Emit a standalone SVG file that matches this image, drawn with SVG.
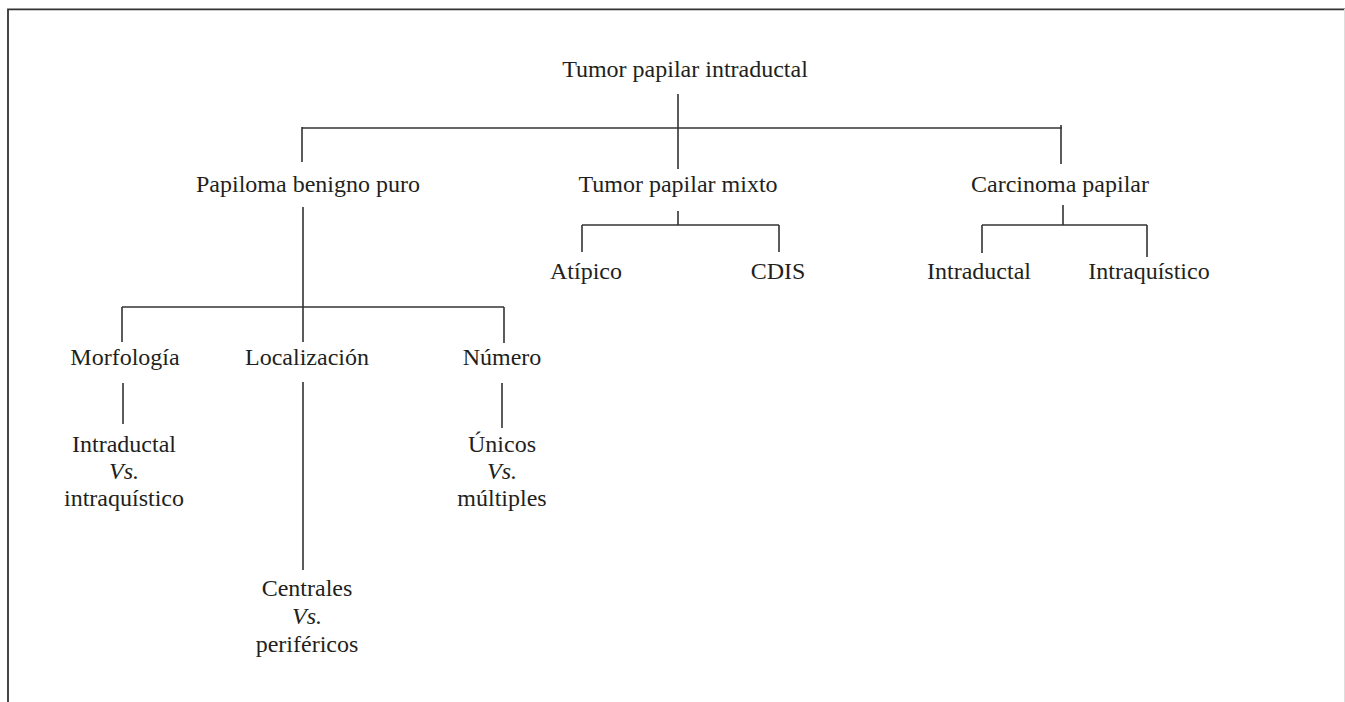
<svg xmlns="http://www.w3.org/2000/svg" width="1345" height="702" viewBox="0 0 1345 702">
<style>
.t{font-family:"Liberation Serif","Times New Roman",serif;font-size:24px;fill:#231f20;text-anchor:middle}
.i{font-style:italic}
.c{stroke:#333;stroke-width:1.6;fill:none}
.f{stroke:#333;stroke-width:1.8;fill:none}
</style>
<rect width="1345" height="702" fill="#fff"/>
<g id="frame">
<path class="f" d="M8,702 V9.3 H1345"/>
<path d="M1344.5,9 V702" stroke="#ddd" stroke-width="1"/>
</g>
<g id="connectors">
<path class="c" d="M678,94 V169"/>
<path class="c" d="M302,128 H1062"/>
<path class="c" d="M302,127 V162"/>
<path class="c" d="M1061,125 V164"/>
<path class="c" d="M678,211 V225"/>
<path class="c" d="M582,225 H779"/>
<path class="c" d="M582,225 V252"/>
<path class="c" d="M779,225 V252"/>
<path class="c" d="M1063,205 V225"/>
<path class="c" d="M982,225 H1147"/>
<path class="c" d="M982,225 V253"/>
<path class="c" d="M1147,225 V257"/>
<path class="c" d="M303,207 V342"/>
<path class="c" d="M122,307 H504"/>
<path class="c" d="M122,307 V342"/>
<path class="c" d="M504,307 V343"/>
<path class="c" d="M123,383 V424"/>
<path class="c" d="M303,382 V570"/>
<path class="c" d="M502,383 V428"/>
</g>
<g id="root"><text class="t" x="685" y="77">Tumor papilar intraductal</text></g>
<g id="papiloma"><text class="t" x="308" y="192">Papiloma benigno puro</text></g>
<g id="mixto"><text class="t" x="678" y="192">Tumor papilar mixto</text></g>
<g id="carcinoma"><text class="t" x="1060" y="192">Carcinoma papilar</text></g>
<g id="atipico"><text class="t" x="586" y="279">Atípico</text></g>
<g id="cdis"><text class="t" x="778" y="279">CDIS</text></g>
<g id="intraductal-c"><text class="t" x="979" y="279">Intraductal</text></g>
<g id="intraquistico-c"><text class="t" x="1149" y="279">Intraquístico</text></g>
<g id="morfologia"><text class="t" x="125" y="365">Morfología</text></g>
<g id="localizacion"><text class="t" x="307" y="365">Localización</text></g>
<g id="numero"><text class="t" x="502" y="365">Número</text></g>
<g id="morf-val">
<text class="t" x="124" y="452">Intraductal</text>
<text class="t i" x="124" y="479">Vs.</text>
<text class="t" x="124" y="506">intraquístico</text>
</g>
<g id="num-val">
<text class="t" x="502" y="452">Únicos</text>
<text class="t i" x="502" y="479">Vs.</text>
<text class="t" x="502" y="506">múltiples</text>
</g>
<g id="loc-val">
<text class="t" x="307" y="596">Centrales</text>
<text class="t i" x="307" y="624">Vs.</text>
<text class="t" x="307" y="652">periféricos</text>
</g>
</svg>
